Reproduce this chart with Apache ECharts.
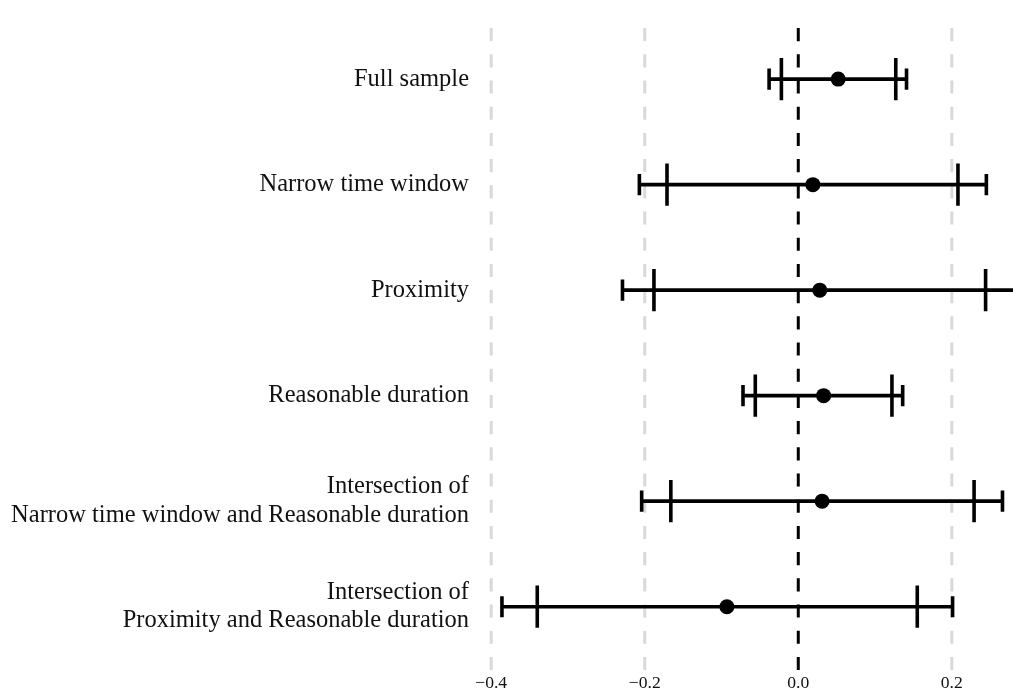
<!DOCTYPE html>
<html>
<head>
<meta charset="utf-8">
<script src="https://cdn.jsdelivr.net/npm/echarts@6/dist/echarts.min.js"></script>
<style>
html,body{margin:0;padding:0;background:#fff;}
#chart{width:1013px;height:692px;}
</style>
</head>
<body>
<div id="chart"></div>
<script>
const categories = [
  'Full sample',
  'Narrow time window',
  'Proximity',
  'Reasonable duration',
  'Intersection of\nNarrow time window and Reasonable duration',
  'Intersection of\nProximity and Reasonable duration'
];
const estimates = [0.052, 0.019, 0.028, 0.033, 0.031, -0.093];
const innerLow  = [-0.022, -0.171, -0.188, -0.056, -0.166, -0.340];
const innerHigh = [0.127, 0.208, 0.244, 0.122, 0.229, 0.155];
const outerLow  = [-0.038, -0.207, -0.229, -0.072, -0.204, -0.386];
const outerHigh = [0.141, 0.245, 0.285, 0.136, 0.266, 0.201];
const refLines  = [-0.4, -0.2, 0.0, 0.2];
const xTicks    = [-0.4, -0.2, 0.0, 0.2];
const xMin = -0.4198, xMax = 0.2797;
const yMin = -0.6, yMax = 5.6;

const barData = categories.map((c, i) => [outerLow[i], innerLow[i], estimates[i], innerHigh[i], outerHigh[i], i]);
const pointData = categories.map((c, i) => [estimates[i], i]);
const refData = refLines.map(v => [v]);

const chart = echarts.init(document.getElementById('chart'), null, {renderer: 'canvas'});
const serif = '"Liberation Serif", "DejaVu Serif", serif';

chart.setOption({
  animation: false,
  backgroundColor: '#ffffff',
  grid: {left: 476, right: 0, top: 15.8, bottom: 20.2},
  xAxis: {
    type: 'value', min: xMin, max: xMax,
    axisLine: {show: false}, axisTick: {show: false}, splitLine: {show: false},
    axisLabel: {
      customValues: xTicks,
      margin: 4,
      fontFamily: serif, fontSize: 17.6, color: '#111111',
      formatter: v => (v < -1e-9 ? '\u2212' + Math.abs(v).toFixed(1) : Math.abs(v).toFixed(1))
    }
  },
  yAxis: {
    type: 'value', min: yMin, max: yMax, inverse: true,
    axisLine: {show: false}, splitLine: {show: false},
    axisTick: {show: true, customValues: categories.map((c, i) => i), length: 5, lineStyle: {color: '#e3e3e3', width: 1}},
    axisLabel: {
      customValues: categories.map((c, i) => i),
      margin: 7,
      fontFamily: serif, fontSize: 24.5, color: '#111111', lineHeight: 28.5, align: 'right',
      formatter: v => categories[Math.round(v)]
    }
  },
  series: [
    {
      type: 'custom',
      data: refData,
      clip: true,
      z: 1,
      renderItem: (params, api) => {
        const x = api.value(0);
        const pb = api.coord([x, yMax]);
        const pt = api.coord([x, yMin]);
        return {
          type: 'line',
          shape: {x1: pb[0], y1: pb[1], x2: pt[0], y2: pt[1]},
          style: {stroke: Math.abs(x) < 1e-9 ? '#000000' : '#d9d9d9', lineWidth: 3, lineDash: [13.1, 13.1]}
        };
      }
    },
    {
      type: 'custom',
      data: barData,
      clip: true,
      z: 2,
      renderItem: (params, api) => {
        const y = api.value(5);
        const oL = api.coord([api.value(0), y]);
        const iL = api.coord([api.value(1), y]);
        const iH = api.coord([api.value(3), y]);
        const oH = api.coord([api.value(4), y]);
        const unit = api.size([0, 1])[1];
        const oh = unit * 0.1, ih = unit * 0.2;
        const st = {stroke: '#000000', lineWidth: 3.6};
        const cap = (p, h) => ({type: 'line', shape: {x1: p[0], y1: p[1] - h, x2: p[0], y2: p[1] + h}, style: st});
        return {
          type: 'group',
          children: [
            {type: 'line', shape: {x1: oL[0], y1: oL[1], x2: oH[0], y2: oH[1]}, style: st},
            cap(oL, oh), cap(oH, oh), cap(iL, ih), cap(iH, ih)
          ]
        };
      }
    },
    {
      type: 'scatter',
      data: pointData,
      symbol: 'circle',
      symbolSize: 15,
      itemStyle: {color: '#000000', opacity: 1},
      z: 3
    }
  ]
});
</script>
</body>
</html>
